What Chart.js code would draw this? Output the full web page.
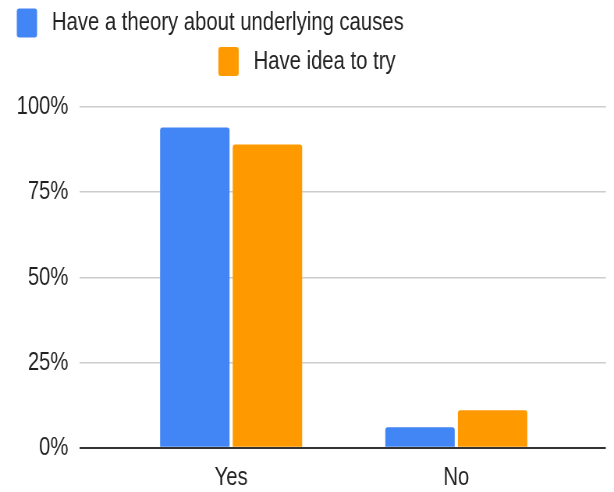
<!DOCTYPE html>
<html>
<head>
<meta charset="utf-8">
<script src="https://cdn.jsdelivr.net/npm/chart.js@4"></script>
<style>
  html, body { margin: 0; padding: 0; background: #fff; }
</style>
</head>
<body>
<!-- drawn wider than shown, then squeezed, like the reference -->
<canvas id="chart" width="787" height="492" style="display:block;width:614px;height:492px"></canvas>
<script>
const categories = ['Yes', 'No'];
const seriesLabels = ['Have a theory about underlying causes', 'Have idea to try'];
const theoryValues = [94, 6];
const ideaValues = [89, 11];
const seriesColors = ['#4285f4', '#ff9900'];
const yTicks = [0, 25, 50, 75, 100];

const FONT = '"Liberation Sans", Arial, sans-serif';
Chart.defaults.font.family = FONT;
Chart.defaults.font.size = 26;
Chart.defaults.color = '#222';

// Legend in two rows: first starts at the left, second is centred
const rowLegend = {
    id: 'rowLegend',
    afterDraw(chart) {
        const ctx = chart.ctx;
        const boxW = 26, boxH = 29, gap = 19;
        ctx.save();
        ctx.font = `26px ${FONT}`;
        ctx.textBaseline = 'middle';
        chart.data.datasets.forEach((ds, i) => {
            const y = 23 + i * 38.5;
            const rowW = boxW + gap + ctx.measureText(ds.label).width;
            const x = i === 0 ? 21.5 : (chart.width - rowW) / 2;
            ctx.fillStyle = ds.backgroundColor;
            ctx.beginPath();
            ctx.roundRect(x, y - boxH / 2, boxW, boxH, 3);
            ctx.fill();
            ctx.fillStyle = '#222';
            ctx.fillText(ds.label, x + boxW + gap, y);
        });
        ctx.restore();
    }
};

const toPoints = values => categories.map((c, i) => ({ x: i, y: values[i] }));

new Chart(document.getElementById('chart'), {
    type: 'bar',
    data: {
        datasets: [
            { label: seriesLabels[0], data: toPoints(theoryValues), backgroundColor: seriesColors[0] },
            { label: seriesLabels[1], data: toPoints(ideaValues), backgroundColor: seriesColors[1] }
        ]
    },
    options: {
        responsive: false,
        animation: false,
        devicePixelRatio: 1,
        layout: { padding: { top: 107, right: 10.5, bottom: 0, left: 0 } },
        datasets: {
            bar: { categoryPercentage: 0.645, barPercentage: 0.956, borderRadius: 3 }
        },
        plugins: {
            legend: { display: false },
            tooltip: { enabled: false }
        },
        scales: {
            x: {
                type: 'linear',
                offset: false,
                bounds: 'data',
                min: -0.674,
                max: 1.664,
                afterBuildTicks: scale => { scale.ticks = categories.map((c, i) => ({ value: i })); },
                afterFit: scale => { scale.height = 44.3; },
                ticks: { padding: 7, callback: v => categories[v] },
                grid: { display: false, offset: false },
                border: { display: false }
            },
            y: {
                min: 0,
                max: 100,
                afterBuildTicks: scale => { scale.ticks = yTicks.map(v => ({ value: v })); },
                afterFit: scale => { scale.width = 101.7; },
                ticks: { padding: 14, callback: v => v + '%' },
                grid: {
                    drawTicks: false,
                    color: c => c.tick.value === 0 ? '#333' : '#cccccc',
                    lineWidth: c => c.tick.value === 0 ? 2 : 1.5
                },
                border: { display: false }
            }
        }
    },
    plugins: [rowLegend]
});
</script>
</body>
</html>
